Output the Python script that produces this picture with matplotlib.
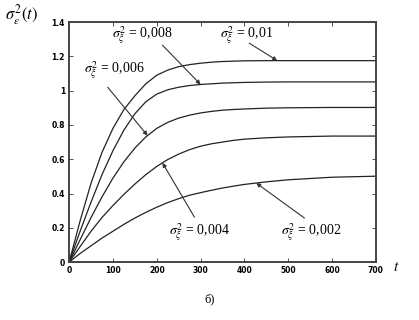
import matplotlib
matplotlib.use("Agg")
import matplotlib.pyplot as plt
import numpy as np

plt.rcParams['mathtext.fontset'] = 'stix'
plt.rcParams['font.family'] = 'Liberation Serif'

t = [0, 25, 50, 75, 100, 125, 150, 175, 200, 225, 250, 275, 300, 325, 350, 375, 400,
     450, 500, 600, 700]
s010 = [0, 0.24, 0.46, 0.64, 0.78, 0.89, 0.97, 1.04, 1.09, 1.12, 1.14, 1.152, 1.16,
        1.166, 1.17, 1.172, 1.174, 1.175, 1.175, 1.175, 1.175]
s008 = [0, 0.18, 0.35, 0.51, 0.65, 0.77, 0.865, 0.935, 0.98, 1.005, 1.02, 1.03, 1.036,
        1.04, 1.044, 1.046, 1.048, 1.05, 1.051, 1.051, 1.051]
s006 = [0, 0.13, 0.26, 0.38, 0.49, 0.585, 0.665, 0.73, 0.78, 0.815, 0.84, 0.857, 0.87,
        0.879, 0.886, 0.89, 0.893, 0.898, 0.9, 0.902, 0.902]
s004 = [0, 0.09, 0.18, 0.26, 0.33, 0.395, 0.455, 0.51, 0.558, 0.598, 0.63, 0.656, 0.676,
        0.69, 0.70, 0.71, 0.717, 0.725, 0.73, 0.735, 0.735]
s002 = [0, 0.05, 0.095, 0.14, 0.18, 0.22, 0.257, 0.29, 0.32, 0.347, 0.37, 0.39, 0.405,
        0.419, 0.432, 0.443, 0.453, 0.468, 0.48, 0.495, 0.501]

labels = ["0,01", "0,008", "0,006", "0,004", "0,002"]
series = [s010, s008, s006, s004, s002]

xticks = [0, 100, 200, 300, 400, 500, 600, 700]
yticks = [0, 0.2, 0.4, 0.6, 0.8, 1.0, 1.2, 1.4]
yticklabels = ["0", "0.2", "0.4", "0.6", "0.8", "1", "1.2", "1.4"]

fig = plt.figure(figsize=(4.19, 3.2), dpi=100)
ax = fig.add_axes([0.165, 0.181, 0.732, 0.75])

for s in series:
    ax.plot(t, s, color='#222222', lw=0.9)

ax.set_xlim(0, 700)
ax.set_ylim(0, 1.4)
ax.set_xticks(xticks)
ax.set_xticklabels([str(v) for v in xticks])
ax.set_yticks(yticks)
ax.set_yticklabels(yticklabels)
ax.tick_params(direction='in', length=3, width=0.6, top=True, right=True,
               labelsize=5.5, pad=3, colors='#333333')
for lab in ax.get_xticklabels() + ax.get_yticklabels():
    lab.set_family('DejaVu Sans')
    lab.set_fontweight('bold')
    lab.set_color('black')
for sp in ax.spines.values():
    sp.set_linewidth(1.4)
    sp.set_color('#444444')

# annotations: (label index, text pos, arrow tail, target t)
notes = [
    (0, (405, 1.324), (411, 1.277), 475),
    (1, (168, 1.324), (213, 1.265), 300),
    (2, (104, 1.12), (88, 1.02), 179),
    (3, (298, 0.175), (286, 0.262), 213),
    (4, (553, 0.175), (537, 0.257), 427),
]
for i, tp, tail, tt in notes:
    ax.text(tp[0], tp[1], r'$\sigma_\xi^2$ = ' + labels[i], fontsize=10,
            ha='center', va='center')
    yv = np.interp(tt, t, series[i])
    ax.annotate('', xy=(tt, yv), xytext=tail,
                arrowprops=dict(arrowstyle='-|>', color='#333333', lw=0.8,
                                mutation_scale=6, shrinkA=0, shrinkB=0))

fig.text(0.012, 0.955, r'$\sigma_\varepsilon^2(t)$', fontsize=12, ha='left', va='center')
fig.text(0.945, 0.165, r'$t$', fontsize=11, ha='center', va='center')
fig.text(0.5, 0.065, 'б)', fontsize=9, ha='center', va='center')

fig.savefig('out.png', dpi=100)
